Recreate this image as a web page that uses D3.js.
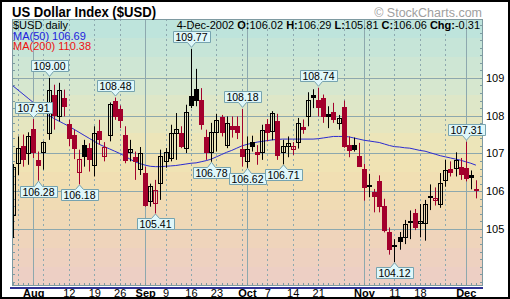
<!DOCTYPE html>
<html><head><meta charset="utf-8">
<script src="https://cdn.jsdelivr.net/npm/d3@7"></script>
<style>
body{margin:0;background:#fff}
svg{display:block}
text{font-family:"Liberation Sans",Arial,Helvetica,sans-serif}
</style>
</head><body>
<svg id="c" width="510" height="299"></svg>
<script>
// ---------- DATA ----------
const dates = [
 "2002-07-26","2002-07-29","2002-07-30","2002-07-31",
 "2002-08-01","2002-08-02","2002-08-05","2002-08-06","2002-08-07","2002-08-08","2002-08-09",
 "2002-08-12","2002-08-13","2002-08-14","2002-08-15","2002-08-16","2002-08-19","2002-08-20",
 "2002-08-21","2002-08-22","2002-08-23","2002-08-26","2002-08-27","2002-08-28","2002-08-29","2002-08-30",
 "2002-09-03","2002-09-04","2002-09-05","2002-09-06","2002-09-09","2002-09-10","2002-09-11","2002-09-12",
 "2002-09-13","2002-09-16","2002-09-17","2002-09-18","2002-09-19","2002-09-20","2002-09-23","2002-09-24",
 "2002-09-25","2002-09-26","2002-09-27","2002-09-30",
 "2002-10-01","2002-10-02","2002-10-03","2002-10-04","2002-10-07","2002-10-08","2002-10-09","2002-10-10",
 "2002-10-11","2002-10-14","2002-10-15","2002-10-16","2002-10-17","2002-10-18","2002-10-21","2002-10-22",
 "2002-10-23","2002-10-24","2002-10-25","2002-10-28","2002-10-29","2002-10-30","2002-10-31",
 "2002-11-01","2002-11-04","2002-11-05","2002-11-06","2002-11-07","2002-11-08","2002-11-11","2002-11-12",
 "2002-11-13","2002-11-14","2002-11-15","2002-11-18","2002-11-19","2002-11-20","2002-11-21","2002-11-22",
 "2002-11-25","2002-11-26","2002-11-27","2002-11-29",
 "2002-12-02","2002-12-03","2002-12-04"
];
const openVals = [
 105.37,106.74,107.21,107.01,107.65,106.83,107.05,107.54,108.56,107.98,
 108.47,107.79,107.50,106.52,107.23,107.15,106.70,107.60,106.92,107.50,
 108.38,108.18,107.50,107.05,106.90,106.58,106.48,105.73,105.68,106.21,
 106.79,106.88,107.54,107.54,107.14,108.51,108.71,108.41,107.43,107.05,
 107.57,107.96,107.23,107.72,107.73,107.12,106.79,107.29,107.04,107.04,
 107.79,107.60,107.85,107.05,107.19,107.12,107.29,107.70,108.00,108.55,
 108.42,108.47,108.04,108.10,107.81,108.23,107.22,107.22,106.92,106.59,
 106.17,105.97,106.28,105.62,104.91,104.58,104.80,104.80,105.22,105.42,
 105.17,105.16,105.84,105.76,105.66,106.30,106.58,106.61,106.63,106.62,
 106.43,106.02];
const highVals = [
 106.72,107.45,107.50,107.56,107.91,107.05,107.32,109.00,108.82,108.87,
 108.69,107.89,107.63,107.10,107.36,107.27,107.72,107.89,107.30,108.35,
 108.48,108.27,107.72,107.36,107.05,107.17,106.65,106.20,106.30,107.10,
 107.14,107.76,108.07,107.72,108.29,109.77,109.24,108.73,107.63,107.81,
 108.05,108.02,107.98,107.98,107.98,108.18,107.45,107.47,107.22,107.76,
 107.91,108.12,108.05,107.36,107.45,107.30,107.94,107.90,108.62,108.70,
 108.74,108.56,108.25,108.34,108.02,108.40,107.45,107.42,107.28,106.72,
 106.46,106.06,106.42,105.80,105.04,104.73,104.92,105.24,105.49,105.53,
 105.66,105.77,106.18,106.10,106.48,106.83,106.79,107.03,106.88,107.31,
 106.55,106.29];
const lowVals = [
 104.76,106.43,106.65,106.70,106.88,106.28,106.57,107.36,107.63,107.85,
 107.98,107.19,106.85,106.18,106.65,106.52,106.39,107.23,106.79,107.32,
 107.89,107.67,106.74,106.79,106.30,106.43,105.59,105.59,105.41,105.77,
 106.62,106.79,106.83,107.14,107.01,108.20,108.25,107.63,106.83,106.78,
 107.05,107.45,107.14,107.42,107.38,106.65,106.62,107.05,106.70,106.83,
 107.32,107.35,106.83,106.71,106.90,106.96,107.13,107.52,107.72,108.20,
 107.98,107.81,107.67,107.81,107.63,107.15,106.90,107.05,106.64,105.75,
 105.84,105.44,105.44,104.91,104.32,104.12,104.45,104.60,104.73,104.97,
 104.78,104.69,105.50,105.62,105.56,106.12,106.39,106.39,106.30,106.26,
 106.05,105.81];
const closeVals = [
 106.65,107.14,106.85,107.45,107.05,106.70,107.29,108.69,108.01,108.69,
 108.25,107.41,107.14,106.85,106.92,106.84,107.54,107.38,107.16,108.30,
 107.98,107.88,106.83,107.12,106.79,107.01,105.64,106.14,106.04,106.92,
 107.05,107.54,107.65,107.20,108.09,108.29,108.42,107.79,107.05,107.57,
 107.89,107.58,107.80,107.65,107.56,106.92,107.12,107.20,106.99,107.61,
 107.58,108.08,106.96,107.21,107.27,107.20,107.81,107.66,108.41,108.50,
 108.23,107.98,108.00,107.92,107.94,107.20,107.10,107.13,106.68,106.11,
 106.13,105.88,105.62,104.96,104.47,104.55,104.67,105.12,105.20,105.04,
 105.21,105.66,105.88,105.82,106.21,106.57,106.52,106.83,106.45,106.34,
 106.37,106.06];
const ma50Vals = [
 108.79,108.68,108.57,108.46,108.35,108.24,108.13,108.01,107.93,107.86,
 107.79,107.72,107.64,107.56,107.48,107.40,107.32,107.24,107.18,107.12,
 107.06,107.00,106.93,106.85,106.78,106.73,106.69,106.66,106.65,106.65,
 106.66,106.67,106.68,106.70,106.72,106.74,106.75,106.78,106.81,106.85,
 106.91,106.97,107.03,107.08,107.14,107.20,107.24,107.27,107.30,107.32,
 107.34,107.36,107.37,107.38,107.38,107.38,107.38,107.38,107.38,107.38,
 107.39,107.41,107.43,107.45,107.45,107.45,107.44,107.41,107.38,107.35,
 107.33,107.31,107.29,107.25,107.21,107.18,107.17,107.15,107.14,107.11,
 107.08,107.06,107.02,106.98,106.94,106.91,106.88,106.85,106.82,106.78,
 106.74,106.69];

const yTickVals = [105,106,107,108,109];
const monthStarts = ["2002-08-01","2002-09-03","2002-10-01","2002-11-01","2002-12-02"];
const mondays = ["2002-07-29","2002-08-05","2002-08-12","2002-08-19","2002-08-26","2002-09-09",
 "2002-09-16","2002-09-23","2002-09-30","2002-10-07","2002-10-14","2002-10-21","2002-10-28",
 "2002-11-04","2002-11-11","2002-11-18","2002-11-25"];
const xTickDates = ["2002-08-01","2002-08-12","2002-08-19","2002-08-26","2002-09-03","2002-09-09",
 "2002-09-16","2002-09-23","2002-10-01","2002-10-07","2002-10-14","2002-10-21","2002-11-01",
 "2002-11-11","2002-11-18","2002-12-02"];
const xTickLabels = ["Aug","12","19","26","Sep","9","16","23","Oct","7","14","21","Nov","11","18","Dec"];

const highLabelDates = ["2002-08-01","2002-08-06","2002-08-23","2002-09-16","2002-09-30","2002-10-21","2002-12-02"];
const highLabelVals  = [107.91,109.00,108.48,109.77,108.18,108.74,107.31];
const lowLabelDates  = ["2002-08-02","2002-08-14","2002-09-05","2002-09-20","2002-10-01","2002-10-10","2002-11-11"];
const lowLabelVals   = [106.28,106.18,105.41,106.78,106.62,106.71,104.12];

const titleText = "US Dollar Index ($USD)";
const lastInfo = {date:"4-Dec-2002", o:"106.02", h:"106.29", l:"105.81", c:"106.06", chg:"-0.31"};
const ma50Last = "106.69", ma200Last = "110.38";

// ---------- LAYOUT ----------
const W=510,H=299;
const PL=12, PR=483, PT=19, PB=286;
const svg = d3.select("#c");

const x = d3.scalePoint().domain(dates).range([12.9, 475.9]);
const y = d3.scaleLinear().domain([103.49,110.56]).range([PB,PT]);
const px = d => Math.round(x(d));
const py = v => Math.round(y(v));

svg.append("rect").attr("x",0).attr("y",0).attr("width",W).attr("height",H).attr("fill","#fff");

// background bands
const bandCols = ["#BEE4DC","#C6E5D8","#CEE6D4","#D6E7CF","#DEE7C8","#E5E6C0","#ECE5B9",
                  "#F0E3B4","#F1DFB3","#F0DBB4","#EFD8B7","#EFD4BB","#EED1C0","#EDCFC4"];
const bh = (PB-PT)/bandCols.length;
svg.append("g").selectAll("rect").data(bandCols).join("rect")
  .attr("x",PL).attr("width",PR-PL)
  .attr("y",(d,i)=>PT+Math.round(i*bh)).attr("height",(d,i)=>Math.round((i+1)*bh)-Math.round(i*bh))
  .attr("fill",d=>d);

const gridCol = "#8DA8AE";
svg.append("g").selectAll("line").data(yTickVals).join("line")
  .attr("x1",PL).attr("x2",PR).attr("y1",d=>py(d)+0.5).attr("y2",d=>py(d)+0.5)
  .attr("stroke",gridCol).attr("stroke-width",1);
svg.append("g").selectAll("line").data(mondays).join("line")
  .attr("x1",d=>px(d)+0.5).attr("x2",d=>px(d)+0.5).attr("y1",PT).attr("y2",PB)
  .attr("stroke",gridCol).attr("stroke-width",1).attr("stroke-dasharray","2,3");
svg.append("g").selectAll("line").data(monthStarts).join("line")
  .attr("x1",d=>px(d)+0.5).attr("x2",d=>px(d)+0.5).attr("y1",PT).attr("y2",PB)
  .attr("stroke",gridCol).attr("stroke-width",1);

const minor = d3.range(103.6,110.5,0.2);
const tg = svg.append("g").attr("stroke","#7E9AA1").attr("stroke-width",1);
tg.selectAll(".lt").data(minor).join("line").attr("class","lt")
  .attr("x1",PL).attr("x2",PL+3).attr("y1",d=>py(d)+0.5).attr("y2",d=>py(d)+0.5);
tg.selectAll(".rt").data(minor).join("line").attr("class","rt")
  .attr("x1",PR-3).attr("x2",PR).attr("y1",d=>py(d)+0.5).attr("y2",d=>py(d)+0.5);
tg.selectAll(".bt").data(dates).join("line").attr("class","bt")
  .attr("x1",d=>px(d)+0.5).attr("x2",d=>px(d)+0.5).attr("y1",PB-3).attr("y2",PB);

svg.append("clipPath").attr("id","clip").append("rect")
  .attr("x",PL).attr("y",PT).attr("width",PR-PL).attr("height",PB-PT);
const plot = svg.append("g").attr("clip-path","url(#clip)");

plot.append("path").datum(dates)
  .attr("d", d3.line().x(d=>x(d)).y((d,i)=>y(ma50Vals[i])))
  .attr("fill","none").attr("stroke","#2B2BD0").attr("stroke-width",1);

const RED="#A3002C", BLK="#000000";
const candles = dates.map((d,i)=>{
  const o=openVals[i],h=highVals[i],l=lowVals[i],c=closeVals[i];
  const pc = i>0?closeVals[i-1]:-Infinity;
  return {d,o,h,l,c,hollow:c>o,col:(c<pc?RED:BLK)};
});
const cg = plot.append("g").selectAll("g").data(candles).join("g");
cg.append("line")
  .attr("x1",d=>px(d.d)+0.5).attr("x2",d=>px(d.d)+0.5)
  .attr("y1",d=>y(d.h)).attr("y2",d=>y(d.l))
  .attr("stroke",d=>d.col).attr("stroke-width",1);
cg.append("rect")
  .attr("x",d=>px(d.d)-1.5).attr("width",4)
  .attr("y",d=>py(Math.max(d.o,d.c))+0.5)
  .attr("height",d=>Math.max(1,py(Math.min(d.o,d.c))-py(Math.max(d.o,d.c))))
  .attr("fill",d=>d.hollow?"#FFFFFF":d.col)
  .attr("fill-opacity",d=>d.hollow?0:1)
  .attr("stroke",d=>d.col).attr("stroke-width",1);

svg.append("rect").attr("x",PL+0.5).attr("y",PT+0.5).attr("width",PR-PL-1).attr("height",PB-PT-1)
  .attr("fill","none").attr("stroke","#7E9AA1");

function callout(dt,val,isHigh){
  const g = svg.append("g");
  const cx = px(dt)+0.5;
  const yv = y(val);
  const t = g.append("text").text(val.toFixed(2)).attr("font-size",10.5).attr("x",cx).attr("text-anchor","middle");
  const tw = t.node().getComputedTextLength();
  const bw = Math.round(tw+5), bhh=11;
  let x0 = Math.round(cx-bw/2)+0.5, x1=x0+bw;
  let top,bot,tip,path;
  if(isHigh){
    bot = Math.round(yv-6.5)+0.5; top = bot-bhh; tip = yv-1.5;
    path = `M${x0},${top}H${x1}V${bot}H${cx+4}L${cx},${tip}L${cx-4},${bot}H${x0}Z`;
  } else {
    top = Math.round(yv+5)+0.5; bot = top+bhh; tip = yv+0.5;
    path = `M${x0},${top}H${cx-4}L${cx},${tip}L${cx+4},${top}H${x1}V${bot}H${x0}Z`;
  }
  g.insert("path","text").attr("d",path).attr("fill","#DFF7FA").attr("stroke","#76A3AF").attr("stroke-width",1);
  t.attr("y",bot-2);
}
highLabelDates.forEach((d,i)=>callout(d,highLabelVals[i],true));
lowLabelDates.forEach((d,i)=>callout(d,lowLabelVals[i],false));

const ya = svg.append("g").attr("transform",`translate(${PR},0)`)
  .call(d3.axisRight(y).tickValues(yTickVals).tickSize(0).tickPadding(3).tickFormat(d3.format("d")));
ya.select(".domain").remove();
ya.selectAll("text").attr("font-size",11).attr("font-family","Liberation Sans, Arial, sans-serif").attr("fill","#000");

svg.append("rect").attr("x",10).attr("y",PB+1).attr("width",PR-10).attr("height",2).attr("fill","#2E3192");
const xa = svg.append("g").attr("transform",`translate(0,${PB+2})`)
  .call(d3.axisBottom(x).tickValues(xTickDates).tickSize(0).tickPadding(1)
        .tickFormat(d=>xTickLabels[xTickDates.indexOf(d)]));
xa.select(".domain").remove();
xa.selectAll("text").attr("font-size",11).attr("font-family","Liberation Sans, Arial, sans-serif").attr("fill","#000")
  .attr("font-weight",(d,i)=>isNaN(+xTickLabels[i])?"bold":"normal");

svg.append("text").attr("x",12).attr("y",17).attr("font-size",15).attr("font-weight","bold")
  .attr("textLength",144).attr("lengthAdjust","spacingAndGlyphs").text(titleText);
svg.append("text").attr("x",482).attr("y",17).attr("font-size",12.5).attr("fill","#A0A0A0")
  .attr("text-anchor","end").text("\u00A9 StockCharts.com");
svg.append("text").attr("x",13).attr("y",29).attr("font-size",11).text("$USD daily");
svg.append("text").attr("x",13).attr("y",39.5).attr("font-size",11).attr("fill","#2222DD").text("MA(50) "+ma50Last);
svg.append("text").attr("x",13).attr("y",50).attr("font-size",11).attr("fill","#EE1111").text("MA(200) "+ma200Last);
const hd = svg.append("text").attr("x",480).attr("y",29).attr("font-size",11).attr("text-anchor","end");
[[lastInfo.date+" ",false],["O:",true],[lastInfo.o+" ",false],["H:",true],[lastInfo.h+" ",false],
 ["L:",true],[lastInfo.l+" ",false],["C:",true],[lastInfo.c+" ",false],["Chg:",true],[lastInfo.chg,false]]
 .forEach(([s,b])=>hd.append("tspan").attr("font-weight",b?"bold":"normal").text(s));

svg.append("rect").attr("x",1).attr("y",1).attr("width",W-2).attr("height",H-2)
  .attr("fill","none").attr("stroke","#000").attr("stroke-width",2);
</script>
</body></html>
